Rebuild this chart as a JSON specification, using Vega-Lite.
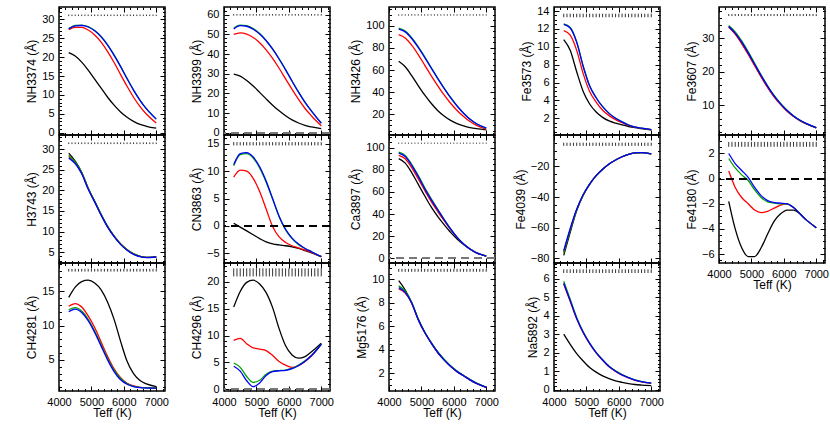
{
"$schema":"https://vega.github.io/schema/vega-lite/v6.json",
"padding":{"left":25,"top":1,"right":0,"bottom":0},
"background":"white",
"datasets":{
"grid":[{"T":4300},{"T":4400},{"T":4500},{"T":4600},{"T":4700},{"T":4800},{"T":4900},{"T":5000},{"T":5100},{"T":5200},{"T":5300},{"T":5400},{"T":5500},{"T":5600},{"T":5700},{"T":5800},{"T":5900},{"T":6000},{"T":6100},{"T":6200},{"T":6300},{"T":6400},{"T":6500},{"T":6600},{"T":6700},{"T":6800},{"T":6900},{"T":7000}],
"curves":[
{"p":"NH3374","T":4300,"k":21.2,"r":27.3,"g":27.6,"b":27.5},
{"p":"NH3374","T":4500,"k":20.3,"r":27.9,"g":28.4,"b":28.3},
{"p":"NH3374","T":4700,"k":18.7,"r":27.9,"g":28.5,"b":28.4},
{"p":"NH3374","T":4900,"k":16.6,"r":27.2,"g":28.1,"b":28.0},
{"p":"NH3374","T":5100,"k":14.2,"r":25.9,"g":27.1,"b":27.0},
{"p":"NH3374","T":5300,"k":11.8,"r":24.0,"g":25.5,"b":25.4},
{"p":"NH3374","T":5500,"k":9.4,"r":21.5,"g":23.3,"b":23.2},
{"p":"NH3374","T":5700,"k":7.3,"r":18.6,"g":20.6,"b":20.5},
{"p":"NH3374","T":5900,"k":5.5,"r":15.4,"g":17.6,"b":17.5},
{"p":"NH3374","T":6100,"k":4.1,"r":12.3,"g":14.4,"b":14.3},
{"p":"NH3374","T":6300,"k":3.0,"r":9.4,"g":11.3,"b":11.3},
{"p":"NH3374","T":6500,"k":2.2,"r":6.9,"g":8.6,"b":8.6},
{"p":"NH3374","T":6700,"k":1.7,"r":4.9,"g":6.3,"b":6.3},
{"p":"NH3374","T":7000,"k":1.2,"r":2.6,"g":3.6,"b":3.6},
{"p":"NH3399","T":4300,"k":29.8,"r":50.0,"g":53.2,"b":52.8},
{"p":"NH3399","T":4500,"k":28.8,"r":50.8,"g":54.8,"b":54.5},
{"p":"NH3399","T":4700,"k":26.6,"r":50.2,"g":54.5,"b":54.2},
{"p":"NH3399","T":4900,"k":23.8,"r":48.5,"g":53.0,"b":52.7},
{"p":"NH3399","T":5100,"k":20.5,"r":45.8,"g":50.5,"b":50.2},
{"p":"NH3399","T":5300,"k":17.2,"r":42.2,"g":47.0,"b":46.8},
{"p":"NH3399","T":5500,"k":14.0,"r":37.8,"g":42.7,"b":42.5},
{"p":"NH3399","T":5700,"k":11.1,"r":32.8,"g":37.6,"b":37.5},
{"p":"NH3399","T":5900,"k":8.6,"r":27.4,"g":32.1,"b":32.0},
{"p":"NH3399","T":6100,"k":6.5,"r":22.0,"g":26.3,"b":26.2},
{"p":"NH3399","T":6300,"k":4.9,"r":16.9,"g":20.6,"b":20.6},
{"p":"NH3399","T":6500,"k":3.7,"r":12.3,"g":15.4,"b":15.4},
{"p":"NH3399","T":6700,"k":2.9,"r":8.5,"g":11.0,"b":11.0},
{"p":"NH3399","T":7000,"k":2.0,"r":3.5,"g":4.9,"b":4.8},
{"p":"NH3426","T":4300,"k":68,"r":92,"g":98,"b":97},
{"p":"NH3426","T":4500,"k":63,"r":89,"g":95.3,"b":94.5},
{"p":"NH3426","T":4700,"k":55,"r":82.5,"g":89.2,"b":88.5},
{"p":"NH3426","T":4900,"k":46,"r":74,"g":81.2,"b":80.5},
{"p":"NH3426","T":5100,"k":37.5,"r":64.5,"g":72,"b":71.5},
{"p":"NH3426","T":5300,"k":30,"r":55,"g":62.3,"b":62},
{"p":"NH3426","T":5500,"k":23.5,"r":46,"g":52.7,"b":52.5},
{"p":"NH3426","T":5700,"k":18.5,"r":37.5,"g":43.7,"b":43.5},
{"p":"NH3426","T":5900,"k":14.5,"r":30,"g":35.2,"b":35},
{"p":"NH3426","T":6100,"k":11.5,"r":23.5,"g":27.6,"b":27.5},
{"p":"NH3426","T":6300,"k":9.5,"r":18,"g":21,"b":21},
{"p":"NH3426","T":6500,"k":8,"r":13.5,"g":15.5,"b":15.5},
{"p":"NH3426","T":6700,"k":7,"r":10,"g":11.5,"b":11.5},
{"p":"NH3426","T":7000,"k":6,"r":6.5,"g":7.5,"b":7.5},
{"p":"Fe3573","T":4300,"k":10.8,"r":11.8,"g":12.55,"b":12.5},
{"p":"Fe3573","T":4500,"k":9.6,"r":11.3,"g":12.15,"b":12.1},
{"p":"Fe3573","T":4700,"k":7.2,"r":9.6,"g":10.55,"b":10.5},
{"p":"Fe3573","T":4900,"k":5.0,"r":7.0,"g":7.85,"b":7.8},
{"p":"Fe3573","T":5100,"k":3.6,"r":5.0,"g":5.65,"b":5.6},
{"p":"Fe3573","T":5300,"k":2.7,"r":3.8,"g":4.3,"b":4.3},
{"p":"Fe3573","T":5500,"k":2.1,"r":2.9,"g":3.3,"b":3.3},
{"p":"Fe3573","T":5700,"k":1.7,"r":2.3,"g":2.55,"b":2.55},
{"p":"Fe3573","T":5900,"k":1.45,"r":1.85,"g":2.0,"b":2.0},
{"p":"Fe3573","T":6100,"k":1.25,"r":1.5,"g":1.6,"b":1.6},
{"p":"Fe3573","T":6300,"k":1.08,"r":1.2,"g":1.25,"b":1.25},
{"p":"Fe3573","T":6500,"k":0.95,"r":1.0,"g":1.02,"b":1.02},
{"p":"Fe3573","T":6700,"k":0.85,"r":0.88,"g":0.9,"b":0.9},
{"p":"Fe3573","T":7000,"k":0.7,"r":0.72,"g":0.72,"b":0.72},
{"p":"Fe3607","T":4300,"k":33.4,"r":33.3,"g":33.8,"b":33.5},
{"p":"Fe3607","T":4500,"k":31.4,"r":31.2,"g":31.9,"b":31.5},
{"p":"Fe3607","T":4700,"k":28.6,"r":28.4,"g":29.2,"b":28.8},
{"p":"Fe3607","T":4900,"k":25.4,"r":25.2,"g":26.0,"b":25.6},
{"p":"Fe3607","T":5100,"k":22.0,"r":21.8,"g":22.5,"b":22.2},
{"p":"Fe3607","T":5300,"k":18.6,"r":18.4,"g":19.0,"b":18.8},
{"p":"Fe3607","T":5500,"k":15.4,"r":15.3,"g":15.8,"b":15.6},
{"p":"Fe3607","T":5700,"k":12.6,"r":12.5,"g":12.9,"b":12.8},
{"p":"Fe3607","T":5900,"k":10.3,"r":10.2,"g":10.5,"b":10.4},
{"p":"Fe3607","T":6100,"k":8.3,"r":8.2,"g":8.5,"b":8.4},
{"p":"Fe3607","T":6300,"k":6.7,"r":6.6,"g":6.8,"b":6.8},
{"p":"Fe3607","T":6500,"k":5.4,"r":5.4,"g":5.5,"b":5.5},
{"p":"Fe3607","T":6700,"k":4.4,"r":4.4,"g":4.5,"b":4.5},
{"p":"Fe3607","T":7000,"k":3.2,"r":3.2,"g":3.3,"b":3.3},
{"p":"H3743","T":4300,"k":29.0,"r":28.2,"g":28.5,"b":27.8},
{"p":"H3743","T":4500,"k":27.1,"r":26.7,"g":26.9,"b":26.5},
{"p":"H3743","T":4700,"k":24.4,"r":24.2,"g":24.3,"b":24.0},
{"p":"H3743","T":4900,"k":20.5,"r":20.4,"g":20.5,"b":20.3},
{"p":"H3743","T":5100,"k":17.3,"r":17.3,"g":17.4,"b":17.2},
{"p":"H3743","T":5300,"k":14.1,"r":14.1,"g":14.2,"b":14.0},
{"p":"H3743","T":5500,"k":11.2,"r":11.2,"g":11.3,"b":11.1},
{"p":"H3743","T":5700,"k":8.9,"r":8.9,"g":8.9,"b":8.8},
{"p":"H3743","T":5900,"k":7.0,"r":7.0,"g":7.0,"b":6.9},
{"p":"H3743","T":6100,"k":5.6,"r":5.6,"g":5.6,"b":5.5},
{"p":"H3743","T":6300,"k":4.6,"r":4.6,"g":4.6,"b":4.5},
{"p":"H3743","T":6500,"k":4.0,"r":4.0,"g":4.0,"b":3.95},
{"p":"H3743","T":6700,"k":3.75,"r":3.75,"g":3.75,"b":3.7},
{"p":"H3743","T":7000,"k":3.9,"r":3.9,"g":3.9,"b":3.85},
{"p":"CN3863","T":4300,"k":0.5,"r":8.9,"g":11.0,"b":11.2},
{"p":"CN3863","T":4500,"k":-0.2,"r":10.2,"g":13.0,"b":13.2},
{"p":"CN3863","T":4700,"k":-0.9,"r":10.0,"g":13.2,"b":13.4},
{"p":"CN3863","T":4900,"k":-1.6,"r":8.7,"g":12.4,"b":12.6},
{"p":"CN3863","T":5100,"k":-2.3,"r":6.3,"g":10.6,"b":10.8},
{"p":"CN3863","T":5300,"k":-2.9,"r":3.1,"g":8.0,"b":8.2},
{"p":"CN3863","T":5500,"k":-3.25,"r":-0.1,"g":4.9,"b":5.0},
{"p":"CN3863","T":5700,"k":-3.45,"r":-2.0,"g":1.7,"b":1.8},
{"p":"CN3863","T":5900,"k":-3.6,"r":-3.0,"g":-0.7,"b":-0.6},
{"p":"CN3863","T":6100,"k":-3.8,"r":-3.6,"g":-2.3,"b":-2.2},
{"p":"CN3863","T":6300,"k":-4.1,"r":-4.0,"g":-3.4,"b":-3.3},
{"p":"CN3863","T":6500,"k":-4.5,"r":-4.4,"g":-4.1,"b":-4.1},
{"p":"CN3863","T":6700,"k":-4.9,"r":-4.8,"g":-4.7,"b":-4.7},
{"p":"CN3863","T":7000,"k":-5.6,"r":-5.6,"g":-5.6,"b":-5.6},
{"p":"Ca3897","T":4300,"k":90,"r":93,"g":96,"b":95},
{"p":"Ca3897","T":4500,"k":86,"r":90,"g":93,"b":92},
{"p":"Ca3897","T":4700,"k":77.5,"r":82,"g":85,"b":84},
{"p":"Ca3897","T":4900,"k":67,"r":72,"g":75,"b":74},
{"p":"Ca3897","T":5100,"k":56.5,"r":61.5,"g":64,"b":63},
{"p":"Ca3897","T":5300,"k":46.5,"r":51.5,"g":54,"b":53},
{"p":"Ca3897","T":5500,"k":38,"r":42.5,"g":44.5,"b":44},
{"p":"Ca3897","T":5700,"k":30.5,"r":34,"g":35.3,"b":35},
{"p":"Ca3897","T":5900,"k":23.5,"r":26,"g":26.7,"b":26.5},
{"p":"Ca3897","T":6100,"k":17.5,"r":18.8,"g":19.1,"b":19},
{"p":"Ca3897","T":6300,"k":12.5,"r":13,"g":13,"b":13},
{"p":"Ca3897","T":6500,"k":8.3,"r":8.4,"g":8.5,"b":8.5},
{"p":"Ca3897","T":6700,"k":5,"r":5,"g":5,"b":5},
{"p":"Ca3897","T":7000,"k":2,"r":2,"g":2,"b":2},
{"p":"Fe4039","T":4300,"k":-78,"r":-76,"g":-76.5,"b":-75},
{"p":"Fe4039","T":4500,"k":-63,"r":-61.2,"g":-61.5,"b":-60.5},
{"p":"Fe4039","T":4700,"k":-48.8,"r":-48.3,"g":-48.4,"b":-48},
{"p":"Fe4039","T":4900,"k":-38.7,"r":-38.6,"g":-38.6,"b":-38.5},
{"p":"Fe4039","T":5100,"k":-31.5,"r":-31.5,"g":-31.5,"b":-31.5},
{"p":"Fe4039","T":5300,"k":-26,"r":-26,"g":-26,"b":-26},
{"p":"Fe4039","T":5500,"k":-21.8,"r":-21.8,"g":-21.8,"b":-21.8},
{"p":"Fe4039","T":5700,"k":-18.4,"r":-18.4,"g":-18.4,"b":-18.4},
{"p":"Fe4039","T":5900,"k":-15.8,"r":-15.8,"g":-15.8,"b":-15.8},
{"p":"Fe4039","T":6100,"k":-13.7,"r":-13.7,"g":-13.7,"b":-13.7},
{"p":"Fe4039","T":6300,"k":-12.1,"r":-12.1,"g":-12.1,"b":-12.1},
{"p":"Fe4039","T":6500,"k":-11.2,"r":-11.2,"g":-11.2,"b":-11.2},
{"p":"Fe4039","T":6700,"k":-11.0,"r":-11.0,"g":-11.0,"b":-11.0},
{"p":"Fe4039","T":7000,"k":-11.8,"r":-11.8,"g":-11.8,"b":-11.8},
{"p":"Fe4180","T":4300,"k":-1.8,"r":0.6,"g":1.6,"b":2.0},
{"p":"Fe4180","T":4500,"k":-4.0,"r":-0.7,"g":0.85,"b":1.2},
{"p":"Fe4180","T":4700,"k":-5.5,"r":-1.5,"g":0.3,"b":0.65},
{"p":"Fe4180","T":4900,"k":-6.2,"r":-2.0,"g":-0.15,"b":0.1},
{"p":"Fe4180","T":5100,"k":-6.2,"r":-2.5,"g":-0.9,"b":-0.7},
{"p":"Fe4180","T":5300,"k":-5.5,"r":-2.7,"g":-1.5,"b":-1.35},
{"p":"Fe4180","T":5500,"k":-4.4,"r":-2.6,"g":-1.85,"b":-1.75},
{"p":"Fe4180","T":5700,"k":-3.4,"r":-2.35,"g":-1.95,"b":-1.9},
{"p":"Fe4180","T":5900,"k":-2.8,"r":-2.1,"g":-2.0,"b":-1.95},
{"p":"Fe4180","T":6100,"k":-2.5,"r":-2.0,"g":-2.0,"b":-2.0},
{"p":"Fe4180","T":6300,"k":-2.5,"r":-2.3,"g":-2.3,"b":-2.3},
{"p":"Fe4180","T":6500,"k":-2.8,"r":-2.8,"g":-2.8,"b":-2.8},
{"p":"Fe4180","T":6700,"k":-3.3,"r":-3.3,"g":-3.3,"b":-3.3},
{"p":"Fe4180","T":7000,"k":-3.9,"r":-3.9,"g":-3.9,"b":-3.9},
{"p":"CH4281","T":4300,"k":14.1,"r":12.8,"g":12.3,"b":12.0},
{"p":"CH4281","T":4500,"k":15.6,"r":13.2,"g":12.6,"b":12.4},
{"p":"CH4281","T":4700,"k":16.4,"r":12.7,"g":12.1,"b":11.9},
{"p":"CH4281","T":4900,"k":16.6,"r":11.4,"g":10.9,"b":10.7},
{"p":"CH4281","T":5100,"k":16.2,"r":9.7,"g":9.2,"b":9.0},
{"p":"CH4281","T":5300,"k":15.2,"r":7.6,"g":7.2,"b":7.0},
{"p":"CH4281","T":5500,"k":13.4,"r":5.5,"g":5.2,"b":5.0},
{"p":"CH4281","T":5700,"k":10.9,"r":3.7,"g":3.5,"b":3.3},
{"p":"CH4281","T":5900,"k":7.7,"r":2.4,"g":2.3,"b":2.1},
{"p":"CH4281","T":6100,"k":4.8,"r":1.6,"g":1.55,"b":1.45},
{"p":"CH4281","T":6300,"k":3.0,"r":1.2,"g":1.15,"b":1.1},
{"p":"CH4281","T":6500,"k":2.0,"r":1.0,"g":1.0,"b":0.95},
{"p":"CH4281","T":6700,"k":1.5,"r":0.95,"g":0.95,"b":0.9},
{"p":"CH4281","T":7000,"k":1.1,"r":0.9,"g":0.9,"b":0.9},
{"p":"CH4296","T":4300,"k":15.3,"r":9.1,"g":4.9,"b":4.3},
{"p":"CH4296","T":4500,"k":18.2,"r":9.5,"g":4.1,"b":3.4},
{"p":"CH4296","T":4700,"k":19.9,"r":8.5,"g":2.4,"b":1.6},
{"p":"CH4296","T":4900,"k":20.3,"r":7.7,"g":1.3,"b":0.5},
{"p":"CH4296","T":5100,"k":19.6,"r":7.5,"g":1.7,"b":1.2},
{"p":"CH4296","T":5300,"k":18.0,"r":7.2,"g":2.8,"b":2.6},
{"p":"CH4296","T":5500,"k":15.2,"r":6.3,"g":3.4,"b":3.3},
{"p":"CH4296","T":5700,"k":11.3,"r":5.2,"g":3.5,"b":3.45},
{"p":"CH4296","T":5900,"k":8.1,"r":4.5,"g":3.6,"b":3.55},
{"p":"CH4296","T":6100,"k":6.4,"r":4.1,"g":3.9,"b":3.85},
{"p":"CH4296","T":6300,"k":5.8,"r":4.4,"g":4.5,"b":4.45},
{"p":"CH4296","T":6500,"k":6.1,"r":5.2,"g":5.3,"b":5.25},
{"p":"CH4296","T":6700,"k":7.0,"r":6.2,"g":6.3,"b":6.3},
{"p":"CH4296","T":7000,"k":8.6,"r":8.4,"g":8.4,"b":8.4},
{"p":"Mg5176","T":4300,"k":9.9,"r":9.2,"g":9.45,"b":9.3},
{"p":"Mg5176","T":4500,"k":9.1,"r":8.85,"g":9.0,"b":8.9},
{"p":"Mg5176","T":4700,"k":8.0,"r":8.0,"g":8.05,"b":8.0},
{"p":"Mg5176","T":4900,"k":6.6,"r":6.6,"g":6.65,"b":6.6},
{"p":"Mg5176","T":5100,"k":5.5,"r":5.5,"g":5.55,"b":5.5},
{"p":"Mg5176","T":5300,"k":4.6,"r":4.6,"g":4.65,"b":4.6},
{"p":"Mg5176","T":5500,"k":3.8,"r":3.8,"g":3.85,"b":3.8},
{"p":"Mg5176","T":5700,"k":3.15,"r":3.15,"g":3.2,"b":3.15},
{"p":"Mg5176","T":5900,"k":2.6,"r":2.6,"g":2.65,"b":2.6},
{"p":"Mg5176","T":6100,"k":2.15,"r":2.15,"g":2.2,"b":2.15},
{"p":"Mg5176","T":6300,"k":1.8,"r":1.8,"g":1.82,"b":1.8},
{"p":"Mg5176","T":6500,"k":1.45,"r":1.45,"g":1.47,"b":1.45},
{"p":"Mg5176","T":6700,"k":1.15,"r":1.15,"g":1.17,"b":1.15},
{"p":"Mg5176","T":7000,"k":0.8,"r":0.8,"g":0.82,"b":0.8},
{"p":"Na5892","T":4300,"k":3.0,"r":5.7,"g":5.85,"b":5.75},
{"p":"Na5892","T":4500,"k":2.45,"r":4.78,"g":4.88,"b":4.8},
{"p":"Na5892","T":4700,"k":1.95,"r":3.83,"g":3.9,"b":3.85},
{"p":"Na5892","T":4900,"k":1.55,"r":3.08,"g":3.13,"b":3.1},
{"p":"Na5892","T":5100,"k":1.2,"r":2.48,"g":2.52,"b":2.5},
{"p":"Na5892","T":5300,"k":0.95,"r":1.99,"g":2.02,"b":2.0},
{"p":"Na5892","T":5500,"k":0.75,"r":1.59,"g":1.62,"b":1.6},
{"p":"Na5892","T":5700,"k":0.6,"r":1.24,"g":1.27,"b":1.25},
{"p":"Na5892","T":5900,"k":0.48,"r":0.99,"g":1.02,"b":1.0},
{"p":"Na5892","T":6100,"k":0.4,"r":0.79,"g":0.82,"b":0.8},
{"p":"Na5892","T":6300,"k":0.33,"r":0.64,"g":0.66,"b":0.65},
{"p":"Na5892","T":6500,"k":0.28,"r":0.51,"g":0.53,"b":0.52},
{"p":"Na5892","T":6700,"k":0.25,"r":0.42,"g":0.44,"b":0.43},
{"p":"Na5892","T":7000,"k":0.22,"r":0.34,"g":0.36,"b":0.35}
]},
"data":{"name":"curves"},
"columns":5,
"bounds":"flush",
"spacing":{"row":0,"column":59},
"concat":[
{"width":106,"height":128,"layer":[
 {"transform":[{"filter":"datum.p==='NH3374'"},{"fold":["k","r","g","b"],"as":["s","v"]}],
  "mark":{"type":"line","interpolate":"monotone","strokeWidth":1.3},
  "encoding":{
   "x":{"field":"T","type":"quantitative","scale":{"domain":[4000,7270],"nice":false,"zero":false},"axis":{"orient":"bottom","values":[4000,4200,4400,4600,4800,5000,5200,5400,5600,5800,6000,6200,6400,6600,6800,7000,7200],"labels":false,"title":null,"tickSize":{"condition":{"test":"datum.value%1000===0","value":-5},"value":-2.5}}},
   "y":{"field":"v","type":"quantitative","scale":{"domain":[-0.6,33.3],"nice":false,"zero":false},"axis":{"orient":"left","values":[0,1,2,3,4,5,6,7,8,9,10,11,12,13,14,15,16,17,18,19,20,21,22,23,24,25,26,27,28,29,30,31,32,33],"format":"d","labelExpr":"abs(datum.value/5-round(datum.value/5))<0.001?datum.label:''","title":"NH3374  (Å)","tickSize":{"condition":{"test":"abs(datum.value/5-round(datum.value/5))<0.001","value":-5},"value":-2.5}}},
   "color":{"field":"s","type":"nominal","scale":{"domain":["k","r","g","b"],"range":["#000000","#ff0000","#00a000","#0000ff"]},"legend":null}}},
 {"data":{"name":"grid"},"mark":{"type":"rule","color":"#333","strokeWidth":1},
  "encoding":{
   "x":{"field":"T","type":"quantitative","scale":{"domain":[4000,7270],"nice":false,"zero":false},"axis":{"orient":"top","values":[4000,4200,4400,4600,4800,5000,5200,5400,5600,5800,6000,6200,6400,6600,6800,7000,7200],"labels":false,"title":null,"tickSize":{"condition":{"test":"datum.value%1000===0","value":-5},"value":-2.5}}},
   "y":{"datum":30.9,"scale":{"domain":[-0.6,33.3],"nice":false,"zero":false},"axis":{"orient":"right","values":[0,1,2,3,4,5,6,7,8,9,10,11,12,13,14,15,16,17,18,19,20,21,22,23,24,25,26,27,28,29,30,31,32,33],"labels":false,"title":null,"tickSize":{"condition":{"test":"abs(datum.value/5-round(datum.value/5))<0.001","value":-5},"value":-2.5}}},
   "y2":{"datum":31.3}}}
],"resolve":{"axis":{"x":"independent","y":"independent"}}},

{"width":106,"height":128,"layer":[
 {"transform":[{"filter":"datum.p==='NH3399'"},{"fold":["k","r","g","b"],"as":["s","v"]}],
  "mark":{"type":"line","interpolate":"monotone","strokeWidth":1.3},
  "encoding":{
   "x":{"field":"T","type":"quantitative","scale":{"domain":[4000,7270],"nice":false,"zero":false},"axis":{"orient":"bottom","values":[4000,4200,4400,4600,4800,5000,5200,5400,5600,5800,6000,6200,6400,6600,6800,7000,7200],"labels":false,"title":null,"tickSize":{"condition":{"test":"datum.value%1000===0","value":-5},"value":-2.5}}},
   "y":{"field":"v","type":"quantitative","scale":{"domain":[-1.2,64],"nice":false,"zero":false},"axis":{"orient":"left","values":[0,2,4,6,8,10,12,14,16,18,20,22,24,26,28,30,32,34,36,38,40,42,44,46,48,50,52,54,56,58,60,62],"format":"d","labelExpr":"abs(datum.value/10-round(datum.value/10))<0.001?datum.label:''","title":"NH3399  (Å)","tickSize":{"condition":{"test":"abs(datum.value/10-round(datum.value/10))<0.001","value":-5},"value":-2.5}}},
   "color":{"field":"s","type":"nominal","scale":{"domain":["k","r","g","b"],"range":["#000000","#ff0000","#00a000","#0000ff"]},"legend":null}}},
 {"data":{"name":"grid"},"mark":{"type":"rule","color":"#333","strokeWidth":1},
  "encoding":{
   "x":{"field":"T","type":"quantitative","scale":{"domain":[4000,7270],"nice":false,"zero":false},"axis":{"orient":"top","values":[4000,4200,4400,4600,4800,5000,5200,5400,5600,5800,6000,6200,6400,6600,6800,7000,7200],"labels":false,"title":null,"tickSize":{"condition":{"test":"datum.value%1000===0","value":-5},"value":-2.5}}},
   "y":{"datum":59.6,"scale":{"domain":[-1.2,64],"nice":false,"zero":false},"axis":{"orient":"right","values":[0,2,4,6,8,10,12,14,16,18,20,22,24,26,28,30,32,34,36,38,40,42,44,46,48,50,52,54,56,58,60,62],"labels":false,"title":null,"tickSize":{"condition":{"test":"abs(datum.value/10-round(datum.value/10))<0.001","value":-5},"value":-2.5}}},
   "y2":{"datum":60.4}}},
 {"mark":{"type":"rule","color":"#777","strokeDash":[8,5],"strokeWidth":1.2},"encoding":{"y":{"datum":0,"scale":{"domain":[-1.2,64],"nice":false,"zero":false},"axis":null}}}
],"resolve":{"axis":{"x":"independent","y":"independent"}}},

{"width":106,"height":128,"layer":[
 {"transform":[{"filter":"datum.p==='NH3426'"},{"fold":["k","r","g","b"],"as":["s","v"]}],
  "mark":{"type":"line","interpolate":"monotone","strokeWidth":1.3},
  "encoding":{
   "x":{"field":"T","type":"quantitative","scale":{"domain":[4000,7270],"nice":false,"zero":false},"axis":{"orient":"bottom","values":[4000,4200,4400,4600,4800,5000,5200,5400,5600,5800,6000,6200,6400,6600,6800,7000,7200],"labels":false,"title":null,"tickSize":{"condition":{"test":"datum.value%1000===0","value":-5},"value":-2.5}}},
   "y":{"field":"v","type":"quantitative","scale":{"domain":[1.3,117],"nice":false,"zero":false},"axis":{"orient":"left","values":[5,10,15,20,25,30,35,40,45,50,55,60,65,70,75,80,85,90,95,100,105,110,115],"format":"d","labelExpr":"abs(datum.value/20-round(datum.value/20))<0.001?datum.label:''","title":"NH3426  (Å)","tickSize":{"condition":{"test":"abs(datum.value/20-round(datum.value/20))<0.001","value":-5},"value":-2.5}}},
   "color":{"field":"s","type":"nominal","scale":{"domain":["k","r","g","b"],"range":["#000000","#ff0000","#00a000","#0000ff"]},"legend":null}}},
 {"data":{"name":"grid"},"mark":{"type":"rule","color":"#333","strokeWidth":1},
  "encoding":{
   "x":{"field":"T","type":"quantitative","scale":{"domain":[4000,7270],"nice":false,"zero":false},"axis":{"orient":"top","values":[4000,4200,4400,4600,4800,5000,5200,5400,5600,5800,6000,6200,6400,6600,6800,7000,7200],"labels":false,"title":null,"tickSize":{"condition":{"test":"datum.value%1000===0","value":-5},"value":-2.5}}},
   "y":{"datum":109.2,"scale":{"domain":[1.3,117],"nice":false,"zero":false},"axis":{"orient":"right","values":[5,10,15,20,25,30,35,40,45,50,55,60,65,70,75,80,85,90,95,100,105,110,115],"labels":false,"title":null,"tickSize":{"condition":{"test":"abs(datum.value/20-round(datum.value/20))<0.001","value":-5},"value":-2.5}}},
   "y2":{"datum":110.4}}}
],"resolve":{"axis":{"x":"independent","y":"independent"}}},

{"width":106,"height":128,"layer":[
 {"transform":[{"filter":"datum.p==='Fe3573'"},{"fold":["k","r","g","b"],"as":["s","v"]}],
  "mark":{"type":"line","interpolate":"monotone","strokeWidth":1.3},
  "encoding":{
   "x":{"field":"T","type":"quantitative","scale":{"domain":[4000,7270],"nice":false,"zero":false},"axis":{"orient":"bottom","values":[4000,4200,4400,4600,4800,5000,5200,5400,5600,5800,6000,6200,6400,6600,6800,7000,7200],"labels":false,"title":null,"tickSize":{"condition":{"test":"datum.value%1000===0","value":-5},"value":-2.5}}},
   "y":{"field":"v","type":"quantitative","scale":{"domain":[0.13,14.45],"nice":false,"zero":false},"axis":{"orient":"left","values":[2,4,6,8,10,12,14],"format":"d","title":"Fe3573  (Å)","tickSize":-5}},
   "color":{"field":"s","type":"nominal","scale":{"domain":["k","r","g","b"],"range":["#000000","#ff0000","#00a000","#0000ff"]},"legend":null}}},
 {"data":{"name":"grid"},"mark":{"type":"rule","color":"#333","strokeWidth":1},
  "encoding":{
   "x":{"field":"T","type":"quantitative","scale":{"domain":[4000,7270],"nice":false,"zero":false},"axis":{"orient":"top","values":[4000,4200,4400,4600,4800,5000,5200,5400,5600,5800,6000,6200,6400,6600,6800,7000,7200],"labels":false,"title":null,"tickSize":{"condition":{"test":"datum.value%1000===0","value":-5},"value":-2.5}}},
   "y":{"datum":13.3,"scale":{"domain":[0.13,14.45],"nice":false,"zero":false},"axis":{"orient":"right","values":[0.5,1,1.5,2,2.5,3,3.5,4,4.5,5,5.5,6,6.5,7,7.5,8,8.5,9,9.5,10,10.5,11,11.5,12,12.5,13,13.5,14],"labels":false,"title":null,"tickSize":{"condition":{"test":"abs(datum.value/2-round(datum.value/2))<0.001","value":-5},"value":-2.5}}},
   "y2":{"datum":13.7}}},
 {"mark":{"type":"rule","opacity":0},"encoding":{"y":{"datum":7,"scale":{"domain":[0.13,14.45],"nice":false,"zero":false},"axis":{"orient":"left","values":[0.5,1,1.5,2.5,3,3.5,4.5,5,5.5,6.5,7,7.5,8.5,9,9.5,10.5,11,11.5,12.5,13,13.5],"labels":false,"title":null,"tickSize":-2.5}}}}
],"resolve":{"axis":{"x":"independent","y":"independent"}}},

{"width":106,"height":128,"layer":[
 {"transform":[{"filter":"datum.p==='Fe3607'"},{"fold":["k","r","g","b"],"as":["s","v"]}],
  "mark":{"type":"line","interpolate":"monotone","strokeWidth":1.3},
  "encoding":{
   "x":{"field":"T","type":"quantitative","scale":{"domain":[4000,7270],"nice":false,"zero":false},"axis":{"orient":"bottom","values":[4000,4200,4400,4600,4800,5000,5200,5400,5600,5800,6000,6200,6400,6600,6800,7000,7200],"labels":false,"title":null,"tickSize":{"condition":{"test":"datum.value%1000===0","value":-5},"value":-2.5}}},
   "y":{"field":"v","type":"quantitative","scale":{"domain":[1.1,39.3],"nice":false,"zero":false},"axis":{"orient":"left","values":[2,4,6,8,10,12,14,16,18,20,22,24,26,28,30,32,34,36,38],"format":"d","labelExpr":"abs(datum.value/10-round(datum.value/10))<0.001?datum.label:''","title":"Fe3607  (Å)","tickSize":{"condition":{"test":"abs(datum.value/10-round(datum.value/10))<0.001","value":-5},"value":-2.5}}},
   "color":{"field":"s","type":"nominal","scale":{"domain":["k","r","g","b"],"range":["#000000","#ff0000","#00a000","#0000ff"]},"legend":null}}},
 {"data":{"name":"grid"},"mark":{"type":"rule","color":"#333","strokeWidth":1},
  "encoding":{
   "x":{"field":"T","type":"quantitative","scale":{"domain":[4000,7270],"nice":false,"zero":false},"axis":{"orient":"top","values":[4000,4200,4400,4600,4800,5000,5200,5400,5600,5800,6000,6200,6400,6600,6800,7000,7200],"labels":false,"title":null,"tickSize":{"condition":{"test":"datum.value%1000===0","value":-5},"value":-2.5}}},
   "y":{"datum":36.6,"scale":{"domain":[1.1,39.3],"nice":false,"zero":false},"axis":{"orient":"right","values":[2,4,6,8,10,12,14,16,18,20,22,24,26,28,30,32,34,36,38],"labels":false,"title":null,"tickSize":{"condition":{"test":"abs(datum.value/10-round(datum.value/10))<0.001","value":-5},"value":-2.5}}},
   "y2":{"datum":37.2}}}
],"resolve":{"axis":{"x":"independent","y":"independent"}}},

{"width":106,"height":128,"layer":[
 {"transform":[{"filter":"datum.p==='H3743'"},{"fold":["k","r","g","b"],"as":["s","v"]}],
  "mark":{"type":"line","interpolate":"monotone","strokeWidth":1.3},
  "encoding":{
   "x":{"field":"T","type":"quantitative","scale":{"domain":[4000,7270],"nice":false,"zero":false},"axis":{"orient":"bottom","values":[4000,4200,4400,4600,4800,5000,5200,5400,5600,5800,6000,6200,6400,6600,6800,7000,7200],"labels":false,"title":null,"tickSize":{"condition":{"test":"datum.value%1000===0","value":-5},"value":-2.5}}},
   "y":{"field":"v","type":"quantitative","scale":{"domain":[2.4,33.4],"nice":false,"zero":false},"axis":{"orient":"left","values":[3,4,5,6,7,8,9,10,11,12,13,14,15,16,17,18,19,20,21,22,23,24,25,26,27,28,29,30,31,32,33],"format":"d","labelExpr":"abs(datum.value/5-round(datum.value/5))<0.001?datum.label:''","title":"H3743  (Å)","tickSize":{"condition":{"test":"abs(datum.value/5-round(datum.value/5))<0.001","value":-5},"value":-2.5}}},
   "color":{"field":"s","type":"nominal","scale":{"domain":["k","r","g","b"],"range":["#000000","#ff0000","#00a000","#0000ff"]},"legend":null}}},
 {"data":{"name":"grid"},"mark":{"type":"rule","color":"#333","strokeWidth":1},
  "encoding":{
   "x":{"field":"T","type":"quantitative","scale":{"domain":[4000,7270],"nice":false,"zero":false},"axis":{"orient":"top","values":[4000,4200,4400,4600,4800,5000,5200,5400,5600,5800,6000,6200,6400,6600,6800,7000,7200],"labels":false,"title":null,"tickSize":{"condition":{"test":"datum.value%1000===0","value":-5},"value":-2.5}}},
   "y":{"datum":31.2,"scale":{"domain":[2.4,33.4],"nice":false,"zero":false},"axis":{"orient":"right","values":[3,4,5,6,7,8,9,10,11,12,13,14,15,16,17,18,19,20,21,22,23,24,25,26,27,28,29,30,31,32,33],"labels":false,"title":null,"tickSize":{"condition":{"test":"abs(datum.value/5-round(datum.value/5))<0.001","value":-5},"value":-2.5}}},
   "y2":{"datum":31.6}}}
],"resolve":{"axis":{"x":"independent","y":"independent"}}},

{"width":106,"height":128,"layer":[
 {"transform":[{"filter":"datum.p==='CN3863'"},{"fold":["k","r","g","b"],"as":["s","v"]}],
  "mark":{"type":"line","interpolate":"monotone","strokeWidth":1.3},
  "encoding":{
   "x":{"field":"T","type":"quantitative","scale":{"domain":[4000,7270],"nice":false,"zero":false},"axis":{"orient":"bottom","values":[4000,4200,4400,4600,4800,5000,5200,5400,5600,5800,6000,6200,6400,6600,6800,7000,7200],"labels":false,"title":null,"tickSize":{"condition":{"test":"datum.value%1000===0","value":-5},"value":-2.5}}},
   "y":{"field":"v","type":"quantitative","scale":{"domain":[-6.75,16.6],"nice":false,"zero":false},"axis":{"orient":"left","values":[-6,-5,-4,-3,-2,-1,0,1,2,3,4,5,6,7,8,9,10,11,12,13,14,15,16],"format":"d","labelExpr":"abs(datum.value/5-round(datum.value/5))<0.001?datum.label:''","title":"CN3863  (Å)","tickSize":{"condition":{"test":"abs(datum.value/5-round(datum.value/5))<0.001","value":-5},"value":-2.5}}},
   "color":{"field":"s","type":"nominal","scale":{"domain":["k","r","g","b"],"range":["#000000","#ff0000","#00a000","#0000ff"]},"legend":null}}},
 {"data":{"name":"grid"},"mark":{"type":"rule","color":"#333","strokeWidth":1},
  "encoding":{
   "x":{"field":"T","type":"quantitative","scale":{"domain":[4000,7270],"nice":false,"zero":false},"axis":{"orient":"top","values":[4000,4200,4400,4600,4800,5000,5200,5400,5600,5800,6000,6200,6400,6600,6800,7000,7200],"labels":false,"title":null,"tickSize":{"condition":{"test":"datum.value%1000===0","value":-5},"value":-2.5}}},
   "y":{"datum":14.7,"scale":{"domain":[-6.75,16.6],"nice":false,"zero":false},"axis":{"orient":"right","values":[-6,-5,-4,-3,-2,-1,0,1,2,3,4,5,6,7,8,9,10,11,12,13,14,15,16],"labels":false,"title":null,"tickSize":{"condition":{"test":"abs(datum.value/5-round(datum.value/5))<0.001","value":-5},"value":-2.5}}},
   "y2":{"datum":15.3}}},
 {"mark":{"type":"rule","color":"#000","strokeDash":[8,5],"strokeWidth":1.2},"encoding":{"y":{"datum":0,"scale":{"domain":[-6.75,16.6],"nice":false,"zero":false},"axis":null}}}
],"resolve":{"axis":{"x":"independent","y":"independent"}}},

{"width":106,"height":128,"layer":[
 {"transform":[{"filter":"datum.p==='Ca3897'"},{"fold":["k","r","g","b"],"as":["s","v"]}],
  "mark":{"type":"line","interpolate":"monotone","strokeWidth":1.3},
  "encoding":{
   "x":{"field":"T","type":"quantitative","scale":{"domain":[4000,7270],"nice":false,"zero":false},"axis":{"orient":"bottom","values":[4000,4200,4400,4600,4800,5000,5200,5400,5600,5800,6000,6200,6400,6600,6800,7000,7200],"labels":false,"title":null,"tickSize":{"condition":{"test":"datum.value%1000===0","value":-5},"value":-2.5}}},
   "y":{"field":"v","type":"quantitative","scale":{"domain":[-4.2,111.4],"nice":false,"zero":false},"axis":{"orient":"left","values":[0,5,10,15,20,25,30,35,40,45,50,55,60,65,70,75,80,85,90,95,100,105,110],"format":"d","labelExpr":"abs(datum.value/20-round(datum.value/20))<0.001?datum.label:''","title":"Ca3897  (Å)","tickSize":{"condition":{"test":"abs(datum.value/20-round(datum.value/20))<0.001","value":-5},"value":-2.5}}},
   "color":{"field":"s","type":"nominal","scale":{"domain":["k","r","g","b"],"range":["#000000","#ff0000","#00a000","#0000ff"]},"legend":null}}},
 {"data":{"name":"grid"},"mark":{"type":"rule","color":"#333","strokeWidth":1},
  "encoding":{
   "x":{"field":"T","type":"quantitative","scale":{"domain":[4000,7270],"nice":false,"zero":false},"axis":{"orient":"top","values":[4000,4200,4400,4600,4800,5000,5200,5400,5600,5800,6000,6200,6400,6600,6800,7000,7200],"labels":false,"title":null,"tickSize":{"condition":{"test":"datum.value%1000===0","value":-5},"value":-2.5}}},
   "y":{"datum":103.5,"scale":{"domain":[-4.2,111.4],"nice":false,"zero":false},"axis":{"orient":"right","values":[0,5,10,15,20,25,30,35,40,45,50,55,60,65,70,75,80,85,90,95,100,105,110],"labels":false,"title":null,"tickSize":{"condition":{"test":"abs(datum.value/20-round(datum.value/20))<0.001","value":-5},"value":-2.5}}},
   "y2":{"datum":104.5}}},
 {"mark":{"type":"rule","color":"#777","strokeDash":[8,5],"strokeWidth":1.2},"encoding":{"y":{"datum":0,"scale":{"domain":[-4.2,111.4],"nice":false,"zero":false},"axis":null}}}
],"resolve":{"axis":{"x":"independent","y":"independent"}}},

{"width":106,"height":128,"layer":[
 {"transform":[{"filter":"datum.p==='Fe4039'"},{"fold":["k","r","g","b"],"as":["s","v"]}],
  "mark":{"type":"line","interpolate":"monotone","strokeWidth":1.3},
  "encoding":{
   "x":{"field":"T","type":"quantitative","scale":{"domain":[4000,7270],"nice":false,"zero":false},"axis":{"orient":"bottom","values":[4000,4200,4400,4600,4800,5000,5200,5400,5600,5800,6000,6200,6400,6600,6800,7000,7200],"labels":false,"title":null,"tickSize":{"condition":{"test":"datum.value%1000===0","value":-5},"value":-2.5}}},
   "y":{"field":"v","type":"quantitative","scale":{"domain":[-83,0.5],"nice":false,"zero":false},"axis":{"orient":"left","values":[-80,-75,-70,-65,-60,-55,-50,-45,-40,-35,-30,-25,-20,-15,-10,-5],"format":"d","labelExpr":"abs(datum.value/20-round(datum.value/20))<0.001?datum.label:''","title":"Fe4039  (Å)","tickSize":{"condition":{"test":"abs(datum.value/20-round(datum.value/20))<0.001","value":-5},"value":-2.5}}},
   "color":{"field":"s","type":"nominal","scale":{"domain":["k","r","g","b"],"range":["#000000","#ff0000","#00a000","#0000ff"]},"legend":null}}},
 {"data":{"name":"grid"},"mark":{"type":"rule","color":"#333","strokeWidth":1},
  "encoding":{
   "x":{"field":"T","type":"quantitative","scale":{"domain":[4000,7270],"nice":false,"zero":false},"axis":{"orient":"top","values":[4000,4200,4400,4600,4800,5000,5200,5400,5600,5800,6000,6200,6400,6600,6800,7000,7200],"labels":false,"title":null,"tickSize":{"condition":{"test":"datum.value%1000===0","value":-5},"value":-2.5}}},
   "y":{"datum":-6.6,"scale":{"domain":[-83,0.5],"nice":false,"zero":false},"axis":{"orient":"right","values":[-80,-75,-70,-65,-60,-55,-50,-45,-40,-35,-30,-25,-20,-15,-10,-5],"labels":false,"title":null,"tickSize":{"condition":{"test":"abs(datum.value/20-round(datum.value/20))<0.001","value":-5},"value":-2.5}}},
   "y2":{"datum":-4.5}}}
],"resolve":{"axis":{"x":"independent","y":"independent"}}},

{"width":106,"height":128,"layer":[
 {"transform":[{"filter":"datum.p==='Fe4180'"},{"fold":["k","r","g","b"],"as":["s","v"]}],
  "mark":{"type":"line","interpolate":"monotone","strokeWidth":1.3},
  "encoding":{
   "x":{"field":"T","type":"quantitative","scale":{"domain":[4000,7270],"nice":false,"zero":false},"axis":{"orient":"bottom","values":[4000,4200,4400,4600,4800,5000,5200,5400,5600,5800,6000,6200,6400,6600,6800,7000,7200],"format":"d","labelExpr":"datum.value%1000===0?datum.label:''","title":"Teff  (K)","tickSize":{"condition":{"test":"datum.value%1000===0","value":-5},"value":-2.5}}},
   "y":{"field":"v","type":"quantitative","scale":{"domain":[-6.71,3.47],"nice":false,"zero":false},"axis":{"orient":"left","values":[-6,-4,-2,0,2],"format":"d","title":"Fe4180  (Å)","tickSize":-5}},
   "color":{"field":"s","type":"nominal","scale":{"domain":["k","r","g","b"],"range":["#000000","#ff0000","#00a000","#0000ff"]},"legend":null}}},
 {"data":{"name":"grid"},"mark":{"type":"rule","color":"#333","strokeWidth":1},
  "encoding":{
   "x":{"field":"T","type":"quantitative","scale":{"domain":[4000,7270],"nice":false,"zero":false},"axis":{"orient":"top","values":[4000,4200,4400,4600,4800,5000,5200,5400,5600,5800,6000,6200,6400,6600,6800,7000,7200],"labels":false,"title":null,"tickSize":{"condition":{"test":"datum.value%1000===0","value":-5},"value":-2.5}}},
   "y":{"datum":2.53,"scale":{"domain":[-6.71,3.47],"nice":false,"zero":false},"axis":{"orient":"right","values":[-6.5,-6,-5.5,-5,-4.5,-4,-3.5,-3,-2.5,-2,-1.5,-1,-0.5,0,0.5,1,1.5,2,2.5,3],"labels":false,"title":null,"tickSize":{"condition":{"test":"abs(datum.value/2-round(datum.value/2))<0.001","value":-5},"value":-2.5}}},
   "y2":{"datum":2.92}}},
 {"mark":{"type":"rule","color":"#000","strokeDash":[8,5],"strokeWidth":1.2},"encoding":{"y":{"datum":0,"scale":{"domain":[-6.71,3.47],"nice":false,"zero":false},"axis":{"orient":"left","values":[-6.5,-5.5,-5,-4.5,-3.5,-3,-2.5,-1.5,-1,-0.5,0.5,1,1.5,2.5,3],"labels":false,"title":null,"tickSize":-2.5}}}}
],"resolve":{"axis":{"x":"independent","y":"independent"}}},

{"width":106,"height":128,"layer":[
 {"transform":[{"filter":"datum.p==='CH4281'"},{"fold":["k","r","g","b"],"as":["s","v"]}],
  "mark":{"type":"line","interpolate":"monotone","strokeWidth":1.3},
  "encoding":{
   "x":{"field":"T","type":"quantitative","scale":{"domain":[4000,7270],"nice":false,"zero":false},"axis":{"orient":"bottom","values":[4000,4200,4400,4600,4800,5000,5200,5400,5600,5800,6000,6200,6400,6600,6800,7000,7200],"format":"d","labelExpr":"datum.value%1000===0?datum.label:''","title":"Teff  (K)","tickSize":{"condition":{"test":"datum.value%1000===0","value":-5},"value":-2.5}}},
   "y":{"field":"v","type":"quantitative","scale":{"domain":[0.47,19.1],"nice":false,"zero":false},"axis":{"orient":"left","values":[1,2,3,4,5,6,7,8,9,10,11,12,13,14,15,16,17,18,19],"format":"d","labelExpr":"abs(datum.value/5-round(datum.value/5))<0.001?datum.label:''","title":"CH4281  (Å)","tickSize":{"condition":{"test":"abs(datum.value/5-round(datum.value/5))<0.001","value":-5},"value":-2.5}}},
   "color":{"field":"s","type":"nominal","scale":{"domain":["k","r","g","b"],"range":["#000000","#ff0000","#00a000","#0000ff"]},"legend":null}}},
 {"data":{"name":"grid"},"mark":{"type":"rule","color":"#333","strokeWidth":1},
  "encoding":{
   "x":{"field":"T","type":"quantitative","scale":{"domain":[4000,7270],"nice":false,"zero":false},"axis":{"orient":"top","values":[4000,4200,4400,4600,4800,5000,5200,5400,5600,5800,6000,6200,6400,6600,6800,7000,7200],"labels":false,"title":null,"tickSize":{"condition":{"test":"datum.value%1000===0","value":-5},"value":-2.5}}},
   "y":{"datum":17.85,"scale":{"domain":[0.47,19.1],"nice":false,"zero":false},"axis":{"orient":"right","values":[1,2,3,4,5,6,7,8,9,10,11,12,13,14,15,16,17,18,19],"labels":false,"title":null,"tickSize":{"condition":{"test":"abs(datum.value/5-round(datum.value/5))<0.001","value":-5},"value":-2.5}}},
   "y2":{"datum":18.25}}}
],"resolve":{"axis":{"x":"independent","y":"independent"}}},

{"width":106,"height":128,"layer":[
 {"transform":[{"filter":"datum.p==='CH4296'"},{"fold":["k","r","g","b"],"as":["s","v"]}],
  "mark":{"type":"line","interpolate":"monotone","strokeWidth":1.3},
  "encoding":{
   "x":{"field":"T","type":"quantitative","scale":{"domain":[4000,7270],"nice":false,"zero":false},"axis":{"orient":"bottom","values":[4000,4200,4400,4600,4800,5000,5200,5400,5600,5800,6000,6200,6400,6600,6800,7000,7200],"format":"d","labelExpr":"datum.value%1000===0?datum.label:''","title":"Teff  (K)","tickSize":{"condition":{"test":"datum.value%1000===0","value":-5},"value":-2.5}}},
   "y":{"field":"v","type":"quantitative","scale":{"domain":[-0.3,23.5],"nice":false,"zero":false},"axis":{"orient":"left","values":[0,1,2,3,4,5,6,7,8,9,10,11,12,13,14,15,16,17,18,19,20,21,22,23],"format":"d","labelExpr":"abs(datum.value/5-round(datum.value/5))<0.001?datum.label:''","title":"CH4296  (Å)","tickSize":{"condition":{"test":"abs(datum.value/5-round(datum.value/5))<0.001","value":-5},"value":-2.5}}},
   "color":{"field":"s","type":"nominal","scale":{"domain":["k","r","g","b"],"range":["#000000","#ff0000","#00a000","#0000ff"]},"legend":null}}},
 {"data":{"name":"grid"},"mark":{"type":"rule","color":"#333","strokeWidth":1},
  "encoding":{
   "x":{"field":"T","type":"quantitative","scale":{"domain":[4000,7270],"nice":false,"zero":false},"axis":{"orient":"top","values":[4000,4200,4400,4600,4800,5000,5200,5400,5600,5800,6000,6200,6400,6600,6800,7000,7200],"labels":false,"title":null,"tickSize":{"condition":{"test":"datum.value%1000===0","value":-5},"value":-2.5}}},
   "y":{"datum":21.0,"scale":{"domain":[-0.3,23.5],"nice":false,"zero":false},"axis":{"orient":"right","values":[0,1,2,3,4,5,6,7,8,9,10,11,12,13,14,15,16,17,18,19,20,21,22,23],"labels":false,"title":null,"tickSize":{"condition":{"test":"abs(datum.value/5-round(datum.value/5))<0.001","value":-5},"value":-2.5}}},
   "y2":{"datum":22.5}}},
 {"mark":{"type":"rule","color":"#777","strokeDash":[8,5],"strokeWidth":1.2},"encoding":{"y":{"datum":0,"scale":{"domain":[-0.3,23.5],"nice":false,"zero":false},"axis":null}}}
],"resolve":{"axis":{"x":"independent","y":"independent"}}},

{"width":106,"height":128,"layer":[
 {"transform":[{"filter":"datum.p==='Mg5176'"},{"fold":["k","r","g","b"],"as":["s","v"]}],
  "mark":{"type":"line","interpolate":"monotone","strokeWidth":1.3},
  "encoding":{
   "x":{"field":"T","type":"quantitative","scale":{"domain":[4000,7270],"nice":false,"zero":false},"axis":{"orient":"bottom","values":[4000,4200,4400,4600,4800,5000,5200,5400,5600,5800,6000,6200,6400,6600,6800,7000,7200],"format":"d","labelExpr":"datum.value%1000===0?datum.label:''","title":"Teff  (K)","tickSize":{"condition":{"test":"datum.value%1000===0","value":-5},"value":-2.5}}},
   "y":{"field":"v","type":"quantitative","scale":{"domain":[0.5,11.4],"nice":false,"zero":false},"axis":{"orient":"left","values":[2,4,6,8,10],"format":"d","title":"Mg5176  (Å)","tickSize":-5}},
   "color":{"field":"s","type":"nominal","scale":{"domain":["k","r","g","b"],"range":["#000000","#ff0000","#00a000","#0000ff"]},"legend":null}}},
 {"data":{"name":"grid"},"mark":{"type":"rule","color":"#333","strokeWidth":1},
  "encoding":{
   "x":{"field":"T","type":"quantitative","scale":{"domain":[4000,7270],"nice":false,"zero":false},"axis":{"orient":"top","values":[4000,4200,4400,4600,4800,5000,5200,5400,5600,5800,6000,6200,6400,6600,6800,7000,7200],"labels":false,"title":null,"tickSize":{"condition":{"test":"datum.value%1000===0","value":-5},"value":-2.5}}},
   "y":{"datum":10.65,"scale":{"domain":[0.5,11.4],"nice":false,"zero":false},"axis":{"orient":"right","values":[1,1.5,2,2.5,3,3.5,4,4.5,5,5.5,6,6.5,7,7.5,8,8.5,9,9.5,10,10.5,11],"labels":false,"title":null,"tickSize":{"condition":{"test":"abs(datum.value/2-round(datum.value/2))<0.001","value":-5},"value":-2.5}}},
   "y2":{"datum":10.9}}},
 {"mark":{"type":"rule","opacity":0},"encoding":{"y":{"datum":5,"scale":{"domain":[0.5,11.4],"nice":false,"zero":false},"axis":{"orient":"left","values":[1,1.5,2.5,3,3.5,4.5,5,5.5,6.5,7,7.5,8.5,9,9.5,10.5,11],"labels":false,"title":null,"tickSize":-2.5}}}}
],"resolve":{"axis":{"x":"independent","y":"independent"}}},

{"width":106,"height":128,"layer":[
 {"transform":[{"filter":"datum.p==='Na5892'"},{"fold":["k","r","g","b"],"as":["s","v"]}],
  "mark":{"type":"line","interpolate":"monotone","strokeWidth":1.3},
  "encoding":{
   "x":{"field":"T","type":"quantitative","scale":{"domain":[4000,7270],"nice":false,"zero":false},"axis":{"orient":"bottom","values":[4000,4200,4400,4600,4800,5000,5200,5400,5600,5800,6000,6200,6400,6600,6800,7000,7200],"format":"d","labelExpr":"datum.value%1000===0?datum.label:''","title":"Teff  (K)","tickSize":{"condition":{"test":"datum.value%1000===0","value":-5},"value":-2.5}}},
   "y":{"field":"v","type":"quantitative","scale":{"domain":[-0.07,6.84],"nice":false,"zero":false},"axis":{"orient":"left","values":[0,1,2,3,4,5,6],"format":"d","title":"Na5892  (Å)","tickSize":-5}},
   "color":{"field":"s","type":"nominal","scale":{"domain":["k","r","g","b"],"range":["#000000","#ff0000","#00a000","#0000ff"]},"legend":null}}},
 {"data":{"name":"grid"},"mark":{"type":"rule","color":"#333","strokeWidth":1},
  "encoding":{
   "x":{"field":"T","type":"quantitative","scale":{"domain":[4000,7270],"nice":false,"zero":false},"axis":{"orient":"top","values":[4000,4200,4400,4600,4800,5000,5200,5400,5600,5800,6000,6200,6400,6600,6800,7000,7200],"labels":false,"title":null,"tickSize":{"condition":{"test":"datum.value%1000===0","value":-5},"value":-2.5}}},
   "y":{"datum":6.3,"scale":{"domain":[-0.07,6.84],"nice":false,"zero":false},"axis":{"orient":"right","values":[0,0.2,0.4,0.6,0.8,1,1.2,1.4,1.6,1.8,2,2.2,2.4,2.6,2.8,3,3.2,3.4,3.6,3.8,4,4.2,4.4,4.6,4.8,5,5.2,5.4,5.6,5.8,6,6.2,6.4,6.6,6.8],"labels":false,"title":null,"tickSize":{"condition":{"test":"abs(datum.value-round(datum.value))<0.001","value":-5},"value":-2.5}}},
   "y2":{"datum":6.5}}},
 {"mark":{"type":"rule","opacity":0},"encoding":{"y":{"datum":3,"scale":{"domain":[-0.07,6.84],"nice":false,"zero":false},"axis":{"orient":"left","values":[0.2,0.4,0.6,0.8,1.2,1.4,1.6,1.8,2.2,2.4,2.6,2.8,3.2,3.4,3.6,3.8,4.2,4.4,4.6,4.8,5.2,5.4,5.6,5.8,6.2,6.4,6.6,6.8],"labels":false,"title":null,"tickSize":-2.5}}}}
],"resolve":{"axis":{"x":"independent","y":"independent"}}}
],
"config":{
 "view":{"stroke":"#000","strokeWidth":1.5},
 "axis":{"domain":false,"grid":false,"tickColor":"#000","tickWidth":1,"labelFont":"Liberation Sans","labelFontSize":11,"labelColor":"#000","titleFont":"Liberation Sans","titleFontSize":12,"titleFontWeight":"normal","titleColor":"#000","labelOverlap":false,"labelFlush":false,"labelBound":false,"labelPadding":10},
 "axisX":{"titlePadding":-2},
 "axisY":{"titlePadding":3}
}
}
